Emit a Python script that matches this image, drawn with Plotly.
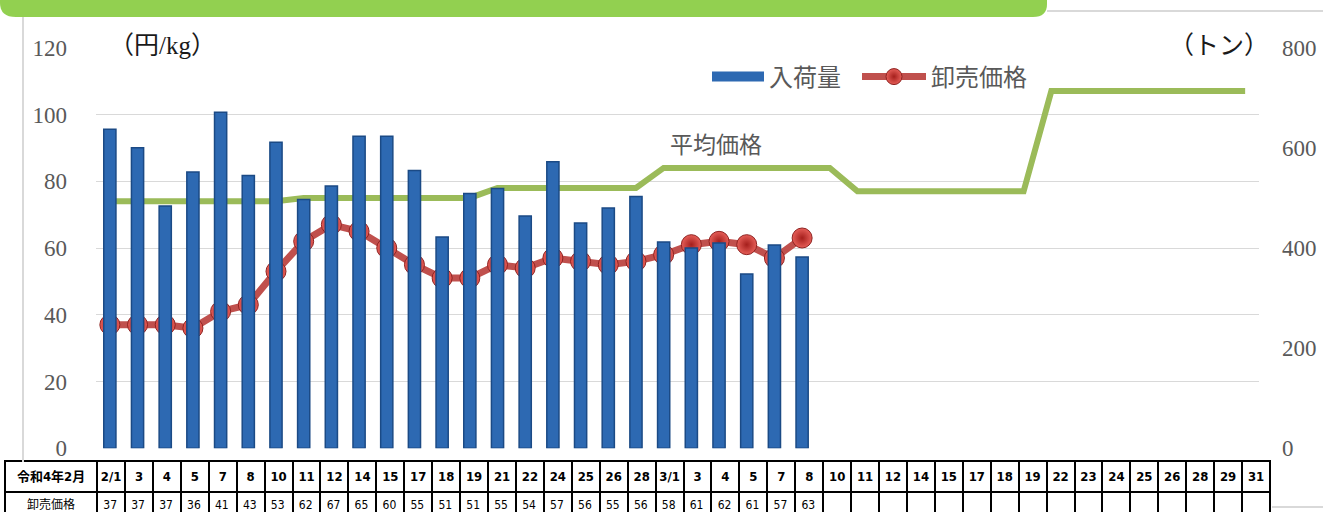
import plotly.graph_objects as go

W, H = 1323, 512

# ---------------- data ----------------
dates = ["2/1", "2/3", "2/4", "2/5", "2/7", "2/8", "2/10", "2/11", "2/12", "2/14",
         "2/15", "2/17", "2/18", "2/19", "2/21", "2/22", "2/24", "2/25", "2/26", "2/28",
         "3/1", "3/3", "3/4", "3/5", "3/7", "3/8", "3/10", "3/11", "3/12", "3/14",
         "3/15", "3/17", "3/18", "3/19", "3/22", "3/23", "3/24", "3/25", "3/26", "3/28",
         "3/29", "3/31"]
header_labels = ["2/1", "3", "4", "5", "7", "8", "10", "11", "12", "14",
                 "15", "17", "18", "19", "21", "22", "24", "25", "26", "28",
                 "3/1", "3", "4", "5", "7", "8", "10", "11", "12", "14",
                 "15", "17", "18", "19", "22", "23", "24", "25", "26", "28",
                 "29", "31"]
arrivals_t = [637, 600, 484, 552, 671, 545, 611, 497, 524, 623,
              623, 555, 422, 509, 519, 464, 572, 450, 480, 503,
              412, 400, 410, 348, 406, 382]
price = [37, 37, 37, 36, 41, 43, 53, 62, 67, 65,
         60, 55, 51, 51, 55, 54, 57, 56, 55, 56,
         58, 61, 62, 61, 57, 63]
avg_price = [74, 74, 74, 74, 74, 74, 74, 75, 75, 75,
             75, 75, 75, 75, 78, 78, 78, 78, 78, 78,
             84, 84, 84, 84, 84, 84, 84, 77, 77, 77,
             77, 77, 77, 77, 107, 107, 107, 107, 107, 107,
             107, 107]
table_corner = "令和4年2月"
table_row_name = "卸売価格"
left_ticks = [0, 20, 40, 60, 80, 100, 120]
right_ticks = [0, 200, 400, 600, 800]

# --------------- helpers ---------------
def px(x):
    return x / W

def py(y):
    return 1 - y / H

x_idx = list(range(len(dates)))
n = len(dates)
BAR_BLUE = "#2D69B2"

fig = go.Figure()

fig.add_trace(go.Bar(
    x=x_idx[:len(arrivals_t)], y=arrivals_t, name="入荷量", yaxis="y2",
    width=0.44, legendgroup="arr", showlegend=False,
    marker=dict(color=BAR_BLUE, line=dict(color="#1B4A85", width=1.5)),
))
# legend entry for the bars (wide bar-like symbol)
fig.add_trace(go.Scatter(
    x=[None], y=[None], name="入荷量", legendgroup="arr", mode="lines",
    line=dict(color=BAR_BLUE, width=12), yaxis="y2", legend="legend",
))
fig.add_trace(go.Scatter(
    x=x_idx, y=avg_price, name="平均価格", yaxis="y", mode="lines",
    line=dict(color="#9BBB59", width=6), showlegend=False,
))
fig.add_trace(go.Scatter(
    x=x_idx[:len(price)], y=price, name="卸売価格", yaxis="y", mode="lines+markers",
    line=dict(color="#C0504D", width=7), legend="legend2",
    marker=dict(size=20, color="#E65E58",
                gradient=dict(type="radial", color="#A51F1C"),
                line=dict(color="#8E2220", width=1)),
))

tick_font = dict(family="Liberation Serif, DejaVu Serif, serif", size=23, color="#595959")
legend_font = dict(family="Noto Sans CJK JP", size=24, color="#595959")

fig.update_layout(
    width=W, height=H,
    margin=dict(l=0, r=0, t=0, b=0, autoexpand=False),
    paper_bgcolor="white", plot_bgcolor="white",
    xaxis=dict(
        domain=[px(96), px(1259)], range=[-0.5, n - 0.5], automargin=False,
        showticklabels=False, showgrid=False, zeroline=False, showline=False,
    ),
    yaxis=dict(
        domain=[py(448.3), py(47.7)], range=[0, 120], tickvals=left_ticks,
        showgrid=True, gridcolor="#D9D9D9", gridwidth=1.3, automargin=False,
        zeroline=False, showline=False, ticks="",
        tickfont=tick_font, ticklabelstandoff=28,
    ),
    yaxis2=dict(
        domain=[py(448.3), py(47.7)], range=[0, 800], tickvals=right_ticks,
        overlaying="y", side="right", showgrid=False, zeroline=False,
        showline=False, ticks="", tickfont=tick_font, ticklabelstandoff=22,
        anchor="x", automargin=False,
    ),
    legend=dict(
        orientation="h", x=px(707), y=py(77), xanchor="left", yanchor="middle",
        font=legend_font, bgcolor="rgba(0,0,0,0)", itemwidth=52,
    ),
    legend2=dict(
        orientation="h", x=px(857), y=py(77), xanchor="left", yanchor="middle",
        font=legend_font, bgcolor="rgba(0,0,0,0)", itemwidth=64,
    ),
    showlegend=True,
)

# axis unit labels and series label
fig.add_annotation(text="（円/kg）", xref="paper", yref="paper", x=px(162), y=py(45),
                   showarrow=False, xanchor="center", yanchor="middle",
                   font=dict(family="Liberation Serif, Noto Sans CJK JP", size=25, color="#1A1A1A"))
fig.add_annotation(text="（トン）", xref="paper", yref="paper", x=px(1219), y=py(45),
                   showarrow=False, xanchor="center", yanchor="middle",
                   font=dict(family="Liberation Serif, Noto Sans CJK JP", size=25, color="#1A1A1A"))
fig.add_annotation(text="平均価格", xref="paper", yref="paper", x=px(716), y=py(143),
                   showarrow=False, xanchor="center", yanchor="middle",
                   font=dict(family="Noto Sans CJK JP", size=23, color="#595959"))

# decorative sheet elements
x1 = px(1047)
fig.add_shape(type="path", xref="paper", yref="paper",
              path=(f"M 0,1 L {x1},1 L {x1},{py(4)} "
                    f"Q {x1},{py(17)} {px(1033)},{py(17)} "
                    f"L {px(16)},{py(17)} Q 0,{py(17)} 0,{py(3)} Z"),
              fillcolor="#92D050", line=dict(width=0), layer="above")
fig.add_shape(type="line", xref="paper", yref="paper", x0=px(23), x1=px(23),
              y0=py(17), y1=py(462), line=dict(color="#D9D9D9", width=2))
fig.add_shape(type="line", xref="paper", yref="paper", x0=px(1047), x1=1,
              y0=py(11), y1=py(11), line=dict(color="#D9D9D9", width=2))
fig.add_shape(type="line", xref="paper", yref="paper", x0=px(1272), x1=1,
              y0=py(507), y1=py(507), line=dict(color="#D9D9D9", width=2))

# data table under the chart
header_vals = [f"<b>{table_corner}</b>"] + [f"<b>{h}</b>" for h in header_labels]
cell_vals = [[table_row_name]] + [[str(price[i]) if i < len(price) else ""] for i in range(n)]
col_w = [92] + [27.9] * n
tfont = "Liberation Sans Narrow, DejaVu Sans Condensed, Noto Sans CJK JP"
fig.add_trace(go.Table(
    domain=dict(x=[px(5), px(1270)], y=[0, py(461)]),
    columnwidth=col_w,
    header=dict(values=header_vals, align="center", height=24,
                fill_color="white", line=dict(color="black", width=2),
                font=dict(family=tfont, size=13, color="black")),
    cells=dict(values=cell_vals, align=["center"] + ["right"] * n, height=25,
               fill_color="white", line=dict(color="black", width=2),
               font=dict(family=tfont, size=12, color="black")),
))

fig.write_html(
    "out.html",
    config={"displayModeBar": False},
    post_script="document.body.style.margin='0';document.body.style.overflow='hidden';",
)
